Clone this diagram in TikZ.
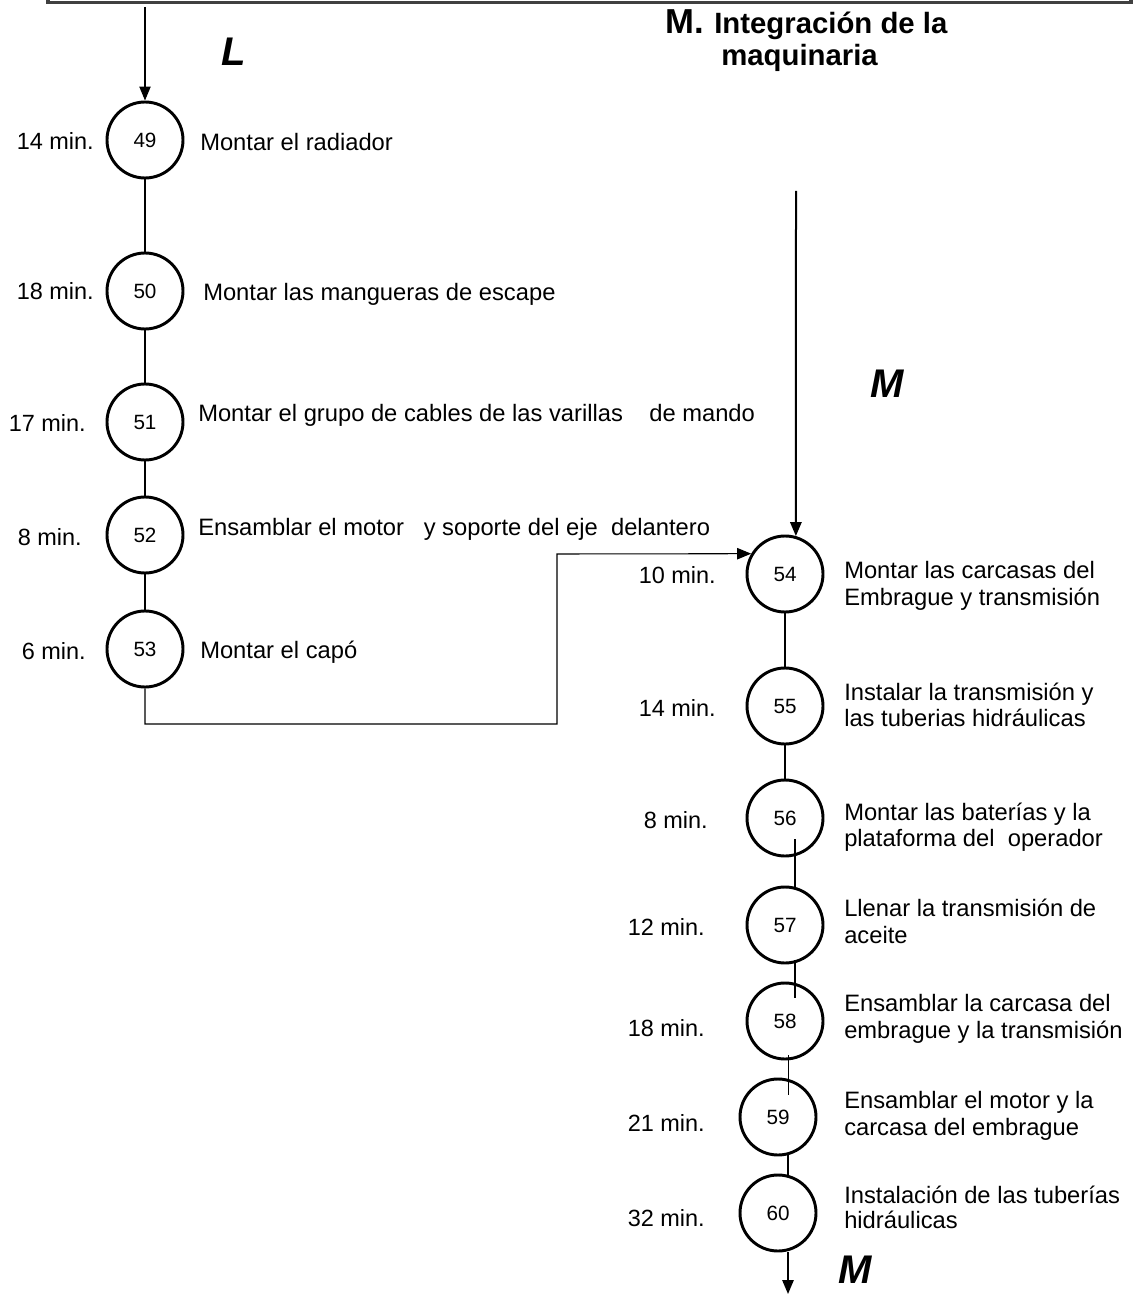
\documentclass[tikz,border=0pt]{standalone}
\usepackage{fontspec}
\setmainfont{Liberation Sans}
\usetikzlibrary{arrows.meta,calc}
\begin{document}
\begin{tikzpicture}[x=0.75pt,y=-0.75pt,
  op/.style={circle,draw,line width=2.2pt,minimum size=57pt,inner sep=0pt,
    font=\fontsize{15.5}{17}\selectfont},
  desc/.style={anchor=base west,inner sep=0pt,font=\fontsize{17.8}{20}\selectfont},
  tm/.style={anchor=base east,inner sep=0pt,font=\fontsize{17.6}{20}\selectfont},
  link/.style={line width=0.8pt},
  flow/.style={line width=0.8pt,-{Triangle[length=10.5pt,width=8.5pt]}},
  tag/.style={inner sep=0pt,font=\fontsize{30}{30}\selectfont\bfseries\itshape},
  head/.style={inner sep=0pt,anchor=base west,font=\bfseries}
]
\useasboundingbox (0,0) rectangle (1136,1294);

% frame of the previous sheet section
\draw[line width=2.3pt,draw=black!75] (48,-20) -- (48,2.5) -- (1131,2.5) -- (1131,-20);

% section heading
\node[head] (h0) at (665,34) {\fontsize{26}{26}\selectfont M.};
\node[head] (h1) at (714,34) {\fontsize{22}{22}\selectfont Integración de la};
\node[head] (h2) at (721,66) {\fontsize{22}{22}\selectfont maquinaria};

% connector letters
\node[tag] (tL) at (234,52) {L};
\node[tag] (tM) at (887,384) {M};
\node[tag] (tM2) at (855,1270) {M};

% left column operations
\node[op] (n49) at (145,140) {49};
\node[op] (n50) at (145,291) {50};
\node[op] (n51) at (145,422) {51};
\node[op] (n52) at (145,535) {52};
\node[op] (n53) at (145,649) {53};

\node[tm] (m49) at (94,149.5) {14 min.};
\node[tm] (m50) at (94,299.5) {18 min.};
\node[tm] (m51) at (86,431.5) {17 min.};
\node[tm] (m52) at (82,545.5) {8 min.};
\node[tm] (m53) at (86,659.5) {6 min.};

\node[desc] (d49) at (200,150.5) {Montar el radiador};
\node[desc] (d50) at (203,300.5) {Montar las mangueras de escape};
\node[desc] (d51) at (198,421.5) {Montar el grupo de cables de las varillas\ \ \ \ de mando};
\node[desc] (d52) at (198,535.5) {Ensamblar el motor\ \ \ y soporte del eje\ \ delantero};
\node[desc] (d53) at (200,658.5) {Montar el capó};

% right column operations
\node[op] (n54) at (785,574) {54};
\node[op] (n55) at (785,706) {55};
\node[op] (n56) at (785,818) {56};
\node[op] (n57) at (785,925) {57};
\node[op] (n58) at (785,1021) {58};
\node[op] (n59) at (778,1117) {59};
\node[op] (n60) at (778,1213) {60};

\node[tm] (m54) at (716,583.5) {10 min.};
\node[tm] (m55) at (716,716.5) {14 min.};
\node[tm] (m56) at (708,828.5) {8 min.};
\node[tm] (m57) at (705,935.5) {12 min.};
\node[tm] (m58) at (705,1036.5) {18 min.};
\node[tm] (m59) at (705,1131.5) {21 min.};
\node[tm] (m60) at (705,1226.5) {32 min.};

\node[desc] (d54a) at (844,578.5) {Montar las carcasas del};
\node[desc] (d54b) at (844,605.5) {Embrague y transmisión};
\node[desc] (d55a) at (844,700.5) {Instalar la transmisión y};
\node[desc] (d55b) at (844,726.5) {las tuberias hidráulicas};
\node[desc] (d56a) at (844,820.5) {Montar las baterías y la};
\node[desc] (d56b) at (844,846.5) {plataforma del\ \ operador};
\node[desc] (d57a) at (844,916.5) {Llenar la transmisión de};
\node[desc] (d57b) at (844,943.5) {aceite};
\node[desc] (d58a) at (844,1011.5) {Ensamblar la carcasa del};
\node[desc] (d58b) at (844,1038.5) {embrague y la transmisión};
\node[desc] (d59a) at (844,1108.5) {Ensamblar el motor y la};
\node[desc] (d59b) at (844,1135.5) {carcasa del embrague};
\node[desc] (d60a) at (844,1203.5) {Instalación de las tuberías};
\node[desc] (d60b) at (844,1228.5) {hidráulicas};

% free ends and bends
\coordinate (inL) at (145,7);
\coordinate (inM) at (796,191);
\coordinate (bendA) at (557,724);
\coordinate (bendB) at (557,554);
\coordinate (outM) at (788,1294);

% left column links
\draw[flow] (inL) -- (n49);
\draw[link] (n49) -- (n50);
\draw[link] (n50) -- (n51);
\draw[link] (n51) -- (n52);
\draw[link] (n52) -- (n53);
\draw[flow] (n53) |- (bendA) -- (bendB) -- (n54.149);

% right column links
\draw[flow,line width=1.5pt] (inM) -- (n54.74);
\draw[link] (n54) -- (n55);
\draw[link] (n55) -- (n56);
\draw[link] ($(n56)+(10,21)$) -- ($(n57)+(10,-38)$);
\draw[link] ($(n57)+(10,35)$) -- ($(n58)+(10,-23)$);
\draw[link] ($(n58)+(3.5,34)$) -- ($(n59)+(10.5,-22)$);
\draw[link] ($(n59)+(10,37.5)$) -- ($(n60)+(10,-37.5)$);
\draw[flow,line width=1.4pt] ($(n60)+(10,38.5)$) -- (outM);
\end{tikzpicture}
\end{document}
